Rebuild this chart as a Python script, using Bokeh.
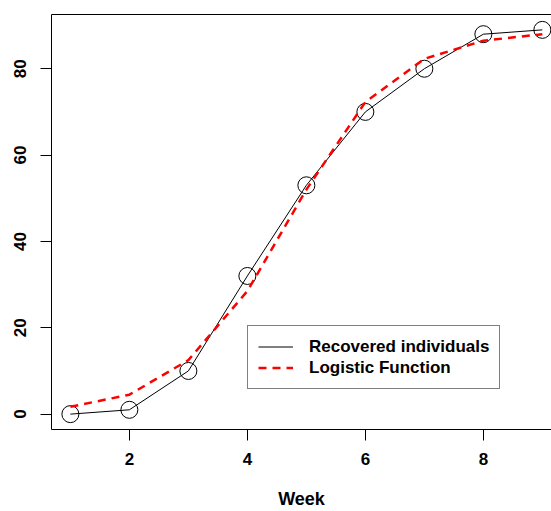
from bokeh.plotting import figure
from bokeh.models import LinearAxis, Legend, LegendItem, FixedTicker, Range1d
from bokeh.embed import file_html
from bokeh.resources import INLINE

weeks = [1, 2, 3, 4, 5, 6, 7, 8, 9]
recovered = [0, 1, 10, 32, 53, 70, 80, 88, 89]
logistic = [1.7, 4.5, 12.5, 28.5, 52, 72.3, 82.3, 86.5, 88]
x_ticks = [2, 4, 6, 8]
y_ticks = [0, 20, 40, 60, 80]

FONT = "Liberation Sans"

p = figure(width=551, height=511, output_backend="svg", toolbar_location=None,
           x_range=Range1d(0.68, 9.155), y_range=Range1d(-3.56, 92.56),
           min_border_left=51, min_border_right=0, min_border_top=14,
           min_border_bottom=81, x_axis_location=None, y_axis_location=None)
p.outline_line_color = None
p.grid.visible = False
p.background_fill_color = "white"
p.border_fill_color = "white"

xa = LinearAxis(ticker=FixedTicker(ticks=x_ticks))
xa.axis_label = "Week"
ya = LinearAxis(ticker=FixedTicker(ticks=y_ticks))
for ax in (xa, ya):
    ax.major_tick_out = 11
    ax.major_tick_in = 0
    ax.minor_tick_out = 0
    ax.minor_tick_in = 0
    ax.axis_line_color = "black"
    ax.major_tick_line_color = "black"
    ax.major_label_text_font = FONT
    ax.major_label_text_font_style = "bold"
    ax.major_label_text_font_size = "17px"
    ax.major_label_text_color = "black"
    ax.major_label_standoff = 14
xa.major_label_standoff = 12
xa.axis_label_text_font = FONT
xa.axis_label_text_font_style = "bold"
xa.axis_label_text_font_size = "18px"
xa.axis_label_text_color = "black"
xa.axis_label_standoff = 21
xa.axis_label_text_baseline = "middle"
ya.major_label_orientation = "vertical"
p.add_layout(xa, "below")
p.add_layout(ya, "left")

top = LinearAxis(ticker=FixedTicker(ticks=[]), axis_line_color="black",
                 major_label_text_font_size="0px", major_tick_line_color=None,
                 minor_tick_line_color=None)
p.add_layout(top, "above")

r_line = p.line(weeks, recovered, line_color="black", line_width=1)
p.scatter(weeks, recovered, marker="circle", size=17, fill_color=None,
          line_color="black", line_width=1)
r_log = p.line(weeks, logistic, line_color="red", line_width=2.5, line_dash="8 6")

legend = Legend(items=[LegendItem(label="Recovered individuals", renderers=[r_line]),
                       LegendItem(label="Logistic Function", renderers=[r_log])],
                location=(196, 40))
legend.border_line_color = "black"
legend.border_line_width = 1
legend.padding = 10
legend.spacing = 0
legend.margin = 0
legend.glyph_width = 35
legend.glyph_height = 21
legend.label_height = 21
legend.label_standoff = 16
legend.label_text_font = FONT
legend.label_text_font_style = "bold"
legend.label_text_font_size = "17px"
legend.label_text_color = "black"
legend.background_fill_alpha = 1
p.add_layout(legend, "center")

open("out.html", "w").write(file_html(p, INLINE))
